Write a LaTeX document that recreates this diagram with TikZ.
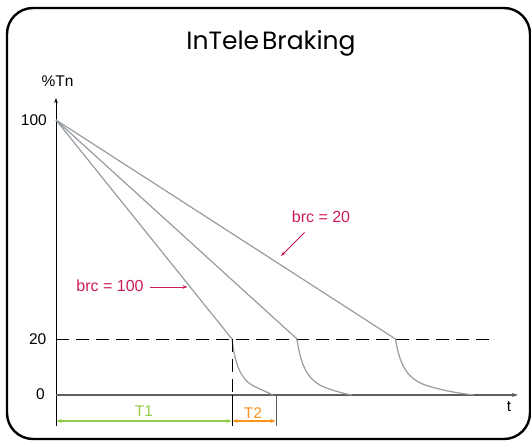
\documentclass[tikz,border=0pt]{standalone}
\usepackage{fontspec}
\setmainfont{Liberation Sans}
\newfontfamily\titlefont{Poppins}
\usetikzlibrary{arrows.meta}
\definecolor{crim}{RGB}{204,30,84}
\definecolor{decaygray}{RGB}{150,156,162}
\definecolor{axgray}{RGB}{95,95,95}
\definecolor{tgreen}{RGB}{146,202,74}
\definecolor{torange}{RGB}{247,148,29}
\begin{document}
\begin{tikzpicture}[x=1pt,y=-1pt,
  lbl/.style={font=\fontsize{15.5}{18}\selectfont, inner sep=0pt},
  clbl/.style={font=\fontsize{16}{19}\selectfont, inner sep=0pt, text=crim},
  decay/.style={draw=decaygray, line width=1.2pt},
  dashline/.style={draw=black, line width=0.9pt, dash pattern=on 13pt off 7pt},
  carrow/.style={draw=crim, line width=0.9pt, -{Stealth[length=5pt,width=3.5pt]}},
  tarrow/.style={line width=1.1pt, {Stealth[length=5pt,width=4pt]}-{Stealth[length=5pt,width=4pt]}},
  tick/.style={draw=axgray, line width=1pt}]
\useasboundingbox (0,0) rectangle (531,441);
\draw[line width=2.4pt, rounded corners=26pt] (7,8) rectangle (530,439);

% title
\node[inner sep=0pt, anchor=base, font=\titlefont\fontsize{25}{28}\selectfont] (title) at (271,50) {{\spaceskip=0.12em InTele Braking}};

% axes
\coordinate (O) at (56,395);
\coordinate (ytop) at (56,98);
\coordinate (ybot) at (56,426);
\coordinate (xend) at (518,395);
\draw[line width=0.8pt, -{Stealth[length=5pt,width=3.5pt]}] (ybot) -- (ytop);
\draw[line width=1.3pt, draw=axgray, -{Stealth[length=6pt,width=4pt]}] (O) -- (xend);

\node[lbl, anchor=base] (ylab) at (57.6,87) {\%Tn};
\node[lbl, anchor=base] (tlab) at (509,411.7) {t};
\node[lbl, anchor=east] (l100) at (47,120.5) {100};
\node[lbl, anchor=east] (l20) at (46.5,339) {20};
\node[lbl, anchor=east] (l0) at (45,394.5) {0};

% 20 % level
\coordinate (h0) at (56,339);
\coordinate (h1) at (491,339);
\draw[dashline] (h0) -- (h1);

% decay curves
\coordinate (P) at (56,120);
\coordinate (k1) at (232,339);
\coordinate (k2) at (297,339);
\coordinate (k3) at (395.5,339);
\coordinate (e1) at (273,395);
\coordinate (e2) at (352,395);
\coordinate (e3) at (474,395);
\draw[decay] (P) -- (k1) .. controls (235,365) and (241,378) .. (251,384.5) .. controls (259,389) and (267,392) .. (e1);
\draw[decay] (P) -- (k2) .. controls (301,368) and (309,381) .. (325,387.5) .. controls (335,391) and (345,394) .. (e2);
\draw[decay] (P) -- (k3) .. controls (400,368) and (409,380) .. (428,386) .. controls (445,391) and (460,393.5) .. (e3);

% T1 / T2 markers
\coordinate (d1) at (232,395);
\coordinate (d1b) at (232,426);
\coordinate (d2) at (276,395);
\coordinate (d2b) at (276,426);
\draw[dashline] (k1) -- (d1);
\draw[line width=0.9pt] (d1) -- (d1b);
\draw[tick] (d2) -- (d2b);
\coordinate (a0) at (56.5,421);
\coordinate (a1) at (231.5,421);
\coordinate (a2) at (232.5,421);
\coordinate (a3) at (275.5,421);
\draw[tarrow, draw=tgreen, fill=tgreen] (a0) -- (a1);
\draw[tarrow, draw=torange, fill=torange] (a2) -- (a3);
\node[lbl, text=tgreen, anchor=base] (t1) at (144,417) {T1};
\node[lbl, text=torange, anchor=base] (t2) at (253,418) {T2};

% brc labels
\node[clbl, anchor=base] (b20) at (321,222.7) {brc = 20};
\node[clbl, anchor=base] (b100) at (110,291.7) {brc = 100};
\coordinate (c20s) at (304.5,232.5);
\coordinate (c20e) at (281,256);
\coordinate (c100s) at (150,287);
\coordinate (c100e) at (187.5,287);
\draw[carrow] (c20s) -- (c20e);
\draw[carrow] (c100s) -- (c100e);
\end{tikzpicture}
\end{document}
